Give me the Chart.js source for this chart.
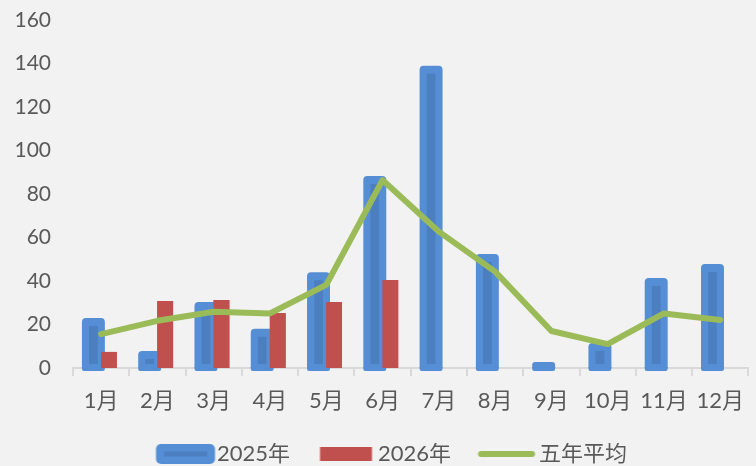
<!DOCTYPE html>
<html><head><meta charset="utf-8">
<script src="https://cdn.jsdelivr.net/npm/chart.js@4.4.1/dist/chart.umd.min.js"></script>
<style>html,body{margin:0;padding:0;background:#f2f2f2;overflow:hidden}canvas{display:block}</style>
</head><body>
<canvas id="c" width="756" height="466"></canvas>
<script>
const categories = ['1月','2月','3月','4月','5月','6月','7月','8月','9月','10月','11月','12月'];
const series2025 = [23, 7.8, 30.3, 18, 44, 88.3, 139, 52.4, 2.8, 11.5, 41.4, 47.8];
const series2026 = [7.4, 30.8, 31.3, 25.3, 30.3, 40.5, null, null, null, null, null, null];
const fiveYearAvg = [15.6, 21.7, 25.9, 25.1, 38.2, 86.4, 62.7, 44.3, 17, 11, 25.1, 22.1];
const yTicks = [0, 20, 40, 60, 80, 100, 120, 140, 160];
const seriesNames = ['2025年', '2026年', '五年平均'];

const BLUE = '#558ed5', BLUE_IN = '#4c7fbf', RED = '#c0504d', GREEN = '#9bbb59', TXT = '#595959', AXIS = '#d9d9d9';
const FAMILY = "Lato, 'Noto Sans CJK SC', sans-serif";

function marker(kind) {
  const c = document.createElement('canvas');
  c.width = 100; c.height = 24;
  const g = c.getContext('2d');
  if (kind === 0) {
    g.fillStyle = BLUE;
    g.beginPath(); g.roundRect(38.5, 2, 59, 20, 5); g.fill();
    g.fillStyle = BLUE_IN;
    g.fillRect(46.5, 9.5, 43, 5);
  } else if (kind === 1) {
    g.fillStyle = RED;
    g.fillRect(41.5, 5, 52, 14);
  } else {
    g.strokeStyle = GREEN; g.lineWidth = 6; g.lineCap = 'round';
    g.beginPath(); g.moveTo(41.5, 12); g.lineTo(92.5, 12); g.stroke();
  }
  return c;
}
const markers = [marker(0), marker(1), marker(2)];

const deco = {
  id: 'deco',
  afterDatasetDraw(chart, args) {
    if (args.index !== 1) return;
    const ctx = chart.ctx;
    const meta = chart.getDatasetMeta(1);
    ctx.save();
    meta.data.forEach(bar => {
      const p = bar.getProps(['x', 'y', 'base', 'width'], true);
      if (p.y == null || isNaN(p.y)) return;
      const sw = p.width * 0.38;
      const top = p.y + 8, bottom = p.base - 4;
      if (bottom > top) {
        ctx.fillStyle = BLUE_IN;
        ctx.fillRect(p.x - sw / 2, top, sw, bottom - top);
      }
      ctx.fillStyle = BLUE;
      ctx.beginPath();
      ctx.roundRect(p.x - p.width / 2, p.base - 1, p.width, 4, [0, 0, 2, 2]);
      ctx.fill();
    });
    ctx.restore();
    // redraw 2026 bars above 2025 bars
    const redMeta = chart.getDatasetMeta(2);
    redMeta.controller.draw();
  }
};

new Chart(document.getElementById('c'), {
  data: {
    labels: categories,
    datasets: [
      { type: 'line', label: seriesNames[2], data: fiveYearAvg, borderColor: GREEN, borderWidth: 6,
        pointRadius: 0, pointHoverRadius: 0, tension: 0, borderJoinStyle: 'round', borderCapStyle: 'round', order: 0 },
      { type: 'bar', label: seriesNames[0], data: series2025, backgroundColor: BLUE,
        borderRadius: { topLeft: 4, topRight: 4 }, borderSkipped: 'start',
        categoryPercentage: 0.551, barPercentage: 1.48, order: 1 },
      { type: 'bar', label: seriesNames[1], data: series2026, backgroundColor: RED,
        categoryPercentage: 0.551, barPercentage: 1.02, order: 2 }
    ]
  },
  options: {
    responsive: false,
    animation: false,
    devicePixelRatio: 1,
    layout: { padding: { top: 20, left: 0, right: 0, bottom: -9 } },
    plugins: {
      tooltip: { enabled: false },
      legend: {
        position: 'bottom',
        labels: {
          usePointStyle: true,
          pointStyleWidth: 77,
          padding: 0,
          color: TXT,
          font: { size: 22, family: FAMILY },
          generateLabels: () => [0, 1, 2].map(i => ({
            text: seriesNames[i], pointStyle: markers[i], fillStyle: 'rgba(0,0,0,0)',
            strokeStyle: 'rgba(0,0,0,0)', lineWidth: 0, hidden: false, fontColor: TXT,
            datasetIndex: i === 2 ? 0 : i + 1
          }))
        }
      }
    },
    scales: {
      x: {
        z: 1,
        offset: true,
        grid: { offset: true, drawOnChartArea: false, drawTicks: true, tickLength: 8, color: AXIS, lineWidth: 2 },
        border: { display: true, color: AXIS, width: 2 },
        ticks: { color: TXT, font: { size: 22, family: FAMILY }, padding: 12, maxRotation: 0, autoSkip: false },
        afterFit: s => { s.height = 75; }
      },
      y: {
        min: 0, max: 160,
        afterBuildTicks: s => { s.ticks = yTicks.map(v => ({ value: v })); },
        grid: { display: false, drawTicks: true, tickLength: 22 },
        border: { display: false },
        ticks: { color: TXT, font: { size: 21, family: FAMILY }, padding: 0 },
        afterFit: s => { s.width = 73; }
      }
    }
  },
  plugins: [deco]
});
</script>
</body></html>
